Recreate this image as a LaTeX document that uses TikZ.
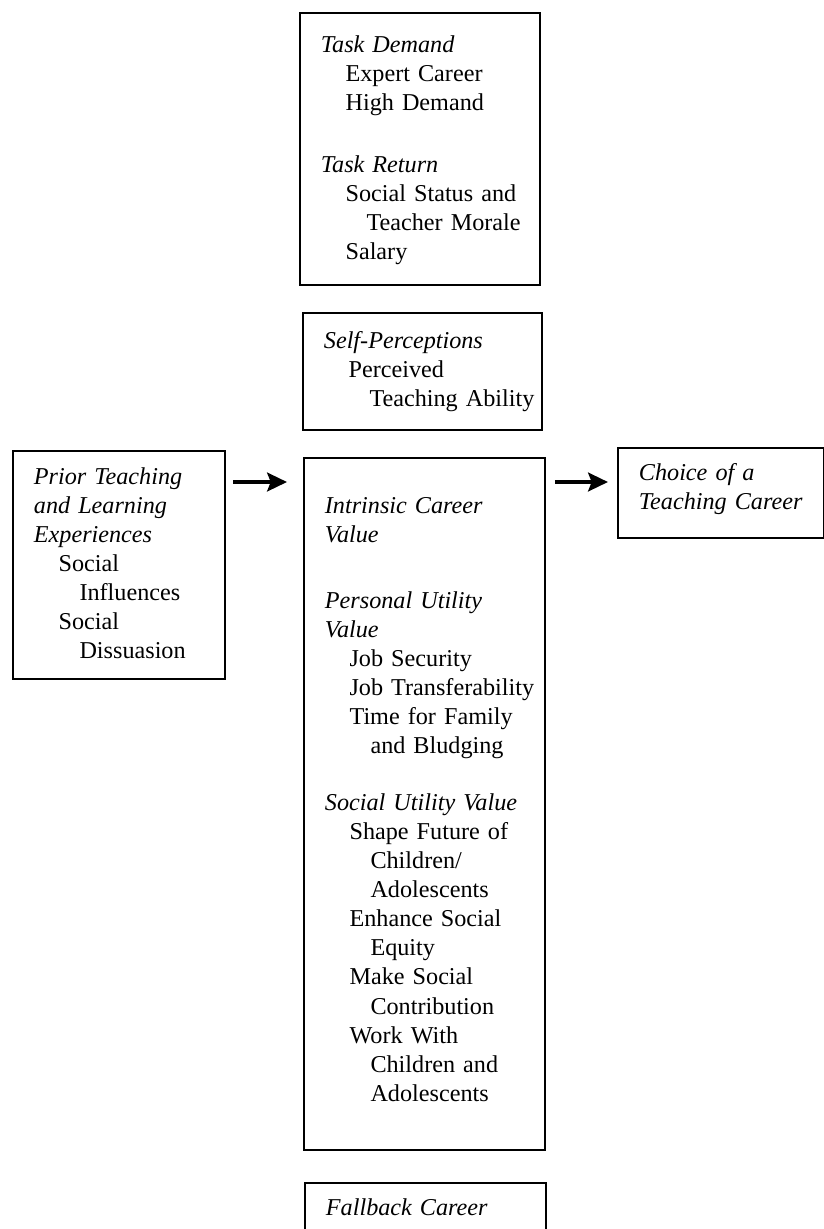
\documentclass[tikz,border=0pt]{standalone}
\usepackage{fontspec}
\setmainfont{Liberation Serif}
\usetikzlibrary{arrows.meta}
\hyphenpenalty=10000
\exhyphenpenalty=10000
\newcommand\indA{\hspace*{10.6pt}}
\newcommand\indB{\hspace*{19.6pt}}

\begin{document}
\begin{tikzpicture}[x=0.43pt, y=-0.43pt,
  factor/.style={draw, line width=1pt, anchor=north west, align=left,
    inner xsep=9pt, inner ysep=0pt, outer sep=0pt,
    font=\fontsize{10.4}{12.5}\selectfont},
  flow/.style={-{Stealth[length=8.5pt,width=8pt,inset=1.5pt]}, line width=1.9pt}]
\useasboundingbox (0,0) rectangle (824,1229);
\clip (0,0) rectangle (824,1229);

% middle column
\node[factor, text width=85.2pt, text height=16.8pt, text depth=100.2pt] (demand) at (300,13)
  {\textit{Task Demand}\\
   \indA Expert Career\\
   \indA High Demand\\[14.2pt]
   \textit{Task Return}\\
   \indA Social~Status~and\\
   \indB Teacher~Morale\\
   \indA Salary};
\node[factor, text width=84.8pt, text height=15.1pt, text depth=35.3pt] (self) at (303,313)
  {\textit{Self-Perceptions}\\
   \indA Perceived\\
   \indB Teaching~Ability};
\node[factor, text width=85.6pt, text height=23.7pt, text depth=273.9pt] (values) at (304,458)
  {\textit{Intrinsic Career}\\
   \textit{Value}\\[15.9pt]
   \textit{Personal Utility}\\
   \textit{Value}\\
   \indA Job Security\\
   \indA Job~Transferability\\
   \indA Time~for~Family\\
   \indB and Bludging\\[12pt]
   \textit{Social~Utility~Value}\\
   \indA Shape Future of\\
   \indB Children/\\
   \indB Adolescents\\
   \indA Enhance~Social\\
   \indB Equity\\
   \indA Make Social\\
   \indB Contribution\\
   \indA Work With\\
   \indB Children and\\
   \indB Adolescents};
\node[factor, text width=85.6pt, text height=13.8pt, text depth=17.2pt] (fallback) at (305,1183)
  {\textit{Fallback Career}};

% left and right
\node[factor, text width=73.2pt, text height=14.2pt, text depth=83.9pt] (prior) at (13,451)
  {\textit{Prior Teaching}\\
   \textit{and Learning}\\
   \textit{Experiences}\\
   \indA Social\\
   \indB Influences\\
   \indA Social\\
   \indB Dissuasion};
\node[factor, text width=70.6pt, text height=13.8pt, text depth=24.9pt] (choice) at (618,448)
  {\textit{Choice of a}\\
   \textit{Teaching~Career}};

\coordinate (arrowrow) at (0,482);
\draw[flow, shorten <=3.4pt, shorten >=7.3pt] (prior.east |- arrowrow) -- (values.west |- arrowrow);
\draw[flow, shorten <=4.3pt, shorten >=4.3pt] (values.east |- arrowrow) -- (choice.west |- arrowrow);
\end{tikzpicture}
\end{document}
